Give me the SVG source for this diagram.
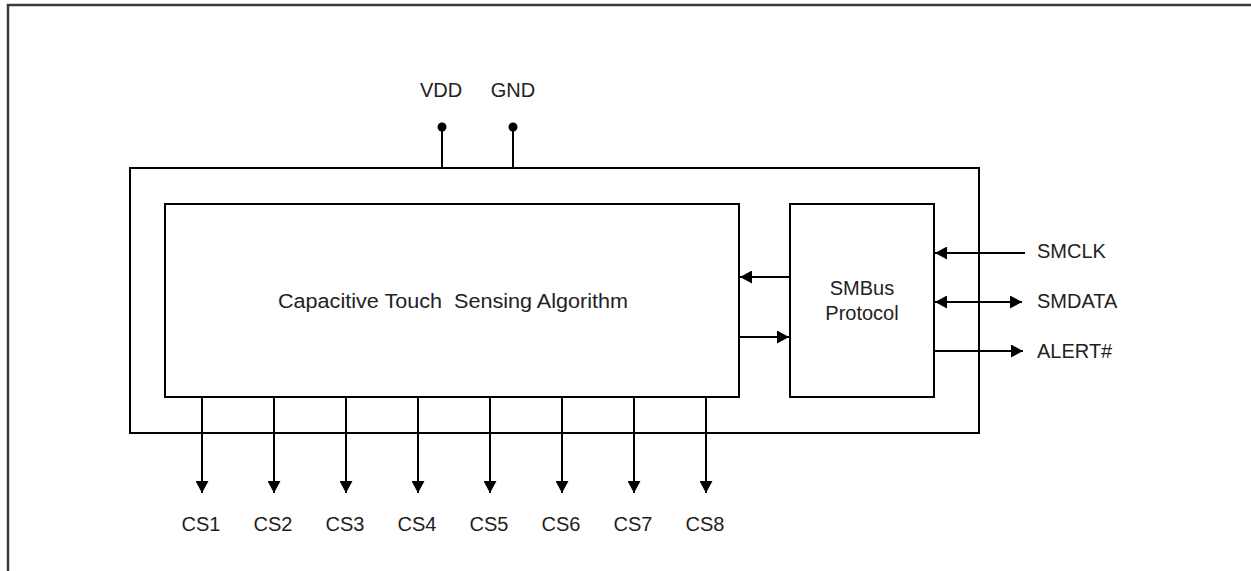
<svg xmlns="http://www.w3.org/2000/svg" width="1251" height="571" viewBox="0 0 1251 571">
<defs>
<style>
.t{font-family:"Liberation Sans",Arial,sans-serif;font-size:20px;fill:#222}
.m{text-anchor:middle}
.ln{stroke:#000;stroke-width:2;fill:none}
.bx{stroke:#000;stroke-width:2;fill:#fff}
</style>
<marker id="ah" viewBox="0 0 12 13" refX="12" refY="6.5" markerWidth="12" markerHeight="13" markerUnits="userSpaceOnUse" orient="auto-start-reverse">
<path d="M0,0 L12,6.5 L0,13 Z" fill="#000"/>
</marker>
</defs>
<rect width="1251" height="571" fill="#fff"/>
<path d="M8,571 V5 H1251" stroke="#3f3a3d" stroke-width="2.5" fill="none"/>
<g id="chip">
<rect class="bx" x="130" y="168" width="849" height="265"/>
</g>
<g id="algorithm">
<rect class="bx" x="165" y="204" width="574" height="193"/>
<text class="t" x="278" y="308" xml:space="preserve" textLength="350" lengthAdjust="spacingAndGlyphs">Capacitive Touch  Sensing Algorithm</text>
</g>
<g id="smbus">
<rect class="bx" x="790" y="204" width="144" height="193"/>
<text class="t m" x="862" y="295">SMBus</text>
<text class="t m" x="862" y="320">Protocol</text>
</g>
<g id="connectors">
<line class="ln" x1="442" y1="127" x2="442" y2="168"/>
<circle cx="442" cy="127" r="4.5" fill="#000"/>
<line class="ln" x1="513" y1="127" x2="513" y2="168"/>
<circle cx="513" cy="127" r="4.5" fill="#000"/>
<line class="ln" x1="790" y1="277" x2="740" y2="277" marker-end="url(#ah)"/>
<line class="ln" x1="739" y1="337" x2="789" y2="337" marker-end="url(#ah)"/>
<line class="ln" x1="1025" y1="253" x2="935" y2="253" marker-end="url(#ah)"/>
<line class="ln" x1="935" y1="302" x2="1022" y2="302" marker-start="url(#ah)" marker-end="url(#ah)"/>
<line class="ln" x1="934" y1="351" x2="1023" y2="351" marker-end="url(#ah)"/>
<line class="ln" x1="202" y1="397" x2="202" y2="493" marker-end="url(#ah)"/>
<line class="ln" x1="274" y1="397" x2="274" y2="493" marker-end="url(#ah)"/>
<line class="ln" x1="346" y1="397" x2="346" y2="493" marker-end="url(#ah)"/>
<line class="ln" x1="418" y1="397" x2="418" y2="493" marker-end="url(#ah)"/>
<line class="ln" x1="490" y1="397" x2="490" y2="493" marker-end="url(#ah)"/>
<line class="ln" x1="562" y1="397" x2="562" y2="493" marker-end="url(#ah)"/>
<line class="ln" x1="634" y1="397" x2="634" y2="493" marker-end="url(#ah)"/>
<line class="ln" x1="706" y1="397" x2="706" y2="493" marker-end="url(#ah)"/>
</g>
<g id="labels">
<text class="t m" x="441" y="97">VDD</text>
<text class="t m" x="513" y="97">GND</text>
<text class="t" x="1037" y="258">SMCLK</text>
<text class="t" x="1037" y="308">SMDATA</text>
<text class="t" x="1037" y="358">ALERT#</text>
<text class="t m" x="201" y="531">CS1</text>
<text class="t m" x="273" y="531">CS2</text>
<text class="t m" x="345" y="531">CS3</text>
<text class="t m" x="417" y="531">CS4</text>
<text class="t m" x="489" y="531">CS5</text>
<text class="t m" x="561" y="531">CS6</text>
<text class="t m" x="633" y="531">CS7</text>
<text class="t m" x="705" y="531">CS8</text>
</g>
</svg>
